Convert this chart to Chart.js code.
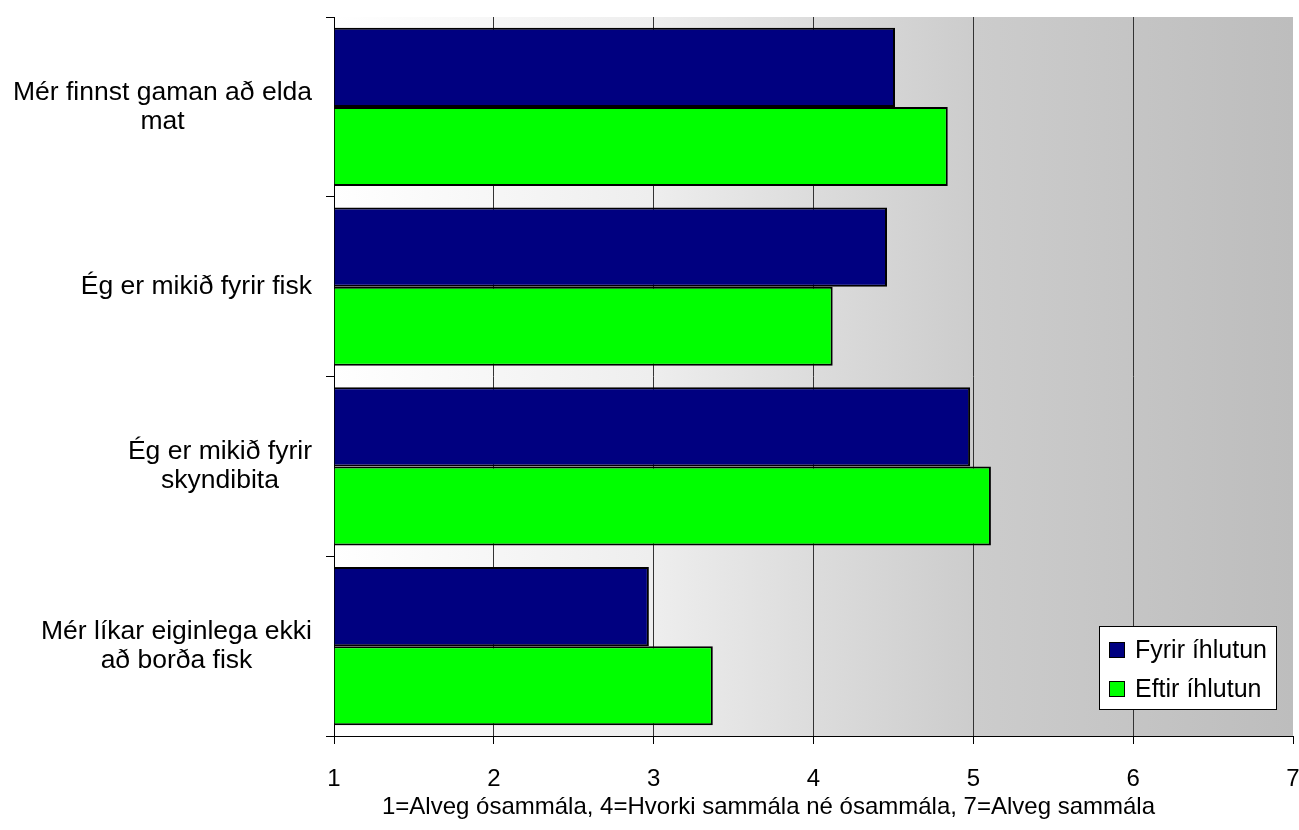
<!DOCTYPE html>
<html>
<head>
<title>Fyrir og eftir íhlutun</title>
<style>
    body {
        margin: 0;
        padding: 0;
        background-color: #ffffff;
    }

    #wrap {
        width: 1299px;
        height: 830px;
    }
</style>
<script src="https://cdn.jsdelivr.net/npm/chart.js"></script>
</head>
<body>
<div id="wrap"><canvas id="chart" width="1299" height="830"></canvas></div>

<script>
    // Data
    var categories = [
        ['Mér finnst gaman að elda', 'mat'],
        ['Ég er mikið fyrir fisk'],
        ['Ég er mikið fyrir', 'skyndibita'],
        ['Mér líkar eiginlega ekki', 'að borða fisk']
    ];
    var fyrirValues = [4.51, 4.46, 4.98, 2.97];
    var eftirValues = [4.84, 4.12, 5.11, 3.37];
    var seriesNames = ['Fyrir íhlutun', 'Eftir íhlutun'];
    var xTicks = [1, 2, 3, 4, 5, 6, 7];
    var xTitle = '1=Alveg ósammála, 4=Hvorki sammála né ósammála, 7=Alveg sammála';

    var fontFamily = 'Arial, "Liberation Sans", sans-serif';

    // Grey gradient behind the plot area
    var plotBackground = {
        id: 'plotBackground',
        beforeDraw: function(chart) {
            var a = chart.chartArea;
            var ctx = chart.ctx;
            var g = ctx.createLinearGradient(a.left, 0, a.right, 0);
            g.addColorStop(0, '#ffffff');
            g.addColorStop(0.33, '#eeeeee');
            g.addColorStop(0.5, '#dcdcdc');
            g.addColorStop(0.67, '#cccccc');
            g.addColorStop(1, '#bdbdbd');
            ctx.save();
            ctx.fillStyle = g;
            ctx.fillRect(a.left, a.top, a.right - a.left, a.bottom - a.top);
            ctx.restore();
        }
    };

    // Category labels: each block right aligned, lines centred inside it,
    // plus the axis caption under the tick numbers
    var axisTexts = {
        id: 'axisTexts',
        afterDraw: function(chart) {
            var ctx = chart.ctx;
            var yScale = chart.scales.y;
            var a = chart.chartArea;
            var right = a.left - 22;
            var lineHeight = 29;
            ctx.save();
            ctx.font = '26.5px ' + fontFamily;
            ctx.fillStyle = '#000000';
            ctx.textAlign = 'center';
            ctx.textBaseline = 'middle';
            categories.forEach(function(lines, i) {
                var w = 0;
                lines.forEach(function(l) { w = Math.max(w, ctx.measureText(l).width); });
                var cx = right - w / 2;
                var cy = yScale.getPixelForValue(i);
                lines.forEach(function(line, j) {
                    ctx.fillText(line, cx, cy + (j - (lines.length - 1) / 2) * lineHeight);
                });
            });

            ctx.font = '24px ' + fontFamily;
            ctx.fillText(xTitle, (a.left + a.right) / 2 - 45, a.bottom + 71);
            ctx.restore();
        }
    };

    // Legend box in the lower right corner of the plot
    var legendBox = {
        id: 'legendBox',
        afterDraw: function(chart) {
            var ctx = chart.ctx;
            var a = chart.chartArea;
            var left = a.right - 194;
            var top = a.bottom - 110;
            ctx.save();
            ctx.fillStyle = '#ffffff';
            ctx.fillRect(left, top, 177, 83);
            ctx.strokeStyle = '#000000';
            ctx.lineWidth = 1;
            ctx.strokeRect(left + 0.5, top + 0.5, 177, 83);
            ctx.font = '25px ' + fontFamily;
            ctx.textBaseline = 'middle';
            ctx.textAlign = 'left';
            chart.data.datasets.forEach(function(ds, i) {
                var y = top + 24 + i * 39;
                ctx.fillStyle = ds.backgroundColor;
                ctx.fillRect(left + 10, y - 8, 16, 16);
                ctx.strokeStyle = '#000000';
                ctx.strokeRect(left + 10.5, y - 7.5, 15, 15);
                ctx.fillStyle = '#000000';
                ctx.fillText(ds.label, left + 36, y + 1);
            });
            ctx.restore();
        }
    };

    var ctx = document.getElementById('chart').getContext('2d');
    var chart = new Chart(ctx, {
        type: 'bar',
        data: {
            labels: categories,
            datasets: [
                {
                    label: seriesNames[0],
                    data: fyrirValues,
                    backgroundColor: '#000080',
                    borderColor: '#000000',
                    borderWidth: 2,
                    base: 1
                },
                {
                    label: seriesNames[1],
                    data: eftirValues,
                    backgroundColor: '#00ff00',
                    borderColor: '#000000',
                    borderWidth: 2,
                    base: 1
                }
            ]
        },
        options: {
            indexAxis: 'y',
            responsive: false,
            animation: false,
            layout: {
                padding: { top: 17, right: 6, bottom: 10, left: 0 }
            },
            datasets: {
                bar: { categoryPercentage: 0.88, barPercentage: 1 }
            },
            plugins: {
                legend: { display: false },
                tooltip: { enabled: false }
            },
            scales: {
                x: {
                    type: 'linear',
                    min: 1,
                    max: 7,
                    afterBuildTicks: function(scale) {
                        scale.ticks = xTicks.map(function(v) { return { value: v }; });
                    },
                    afterFit: function(scale) {
                        scale.height = 84;
                        scale.paddingLeft = 0;
                        scale.paddingRight = 0;
                    },
                    ticks: {
                        color: '#000000',
                        font: { size: 24, family: fontFamily },
                        padding: 21,
                        maxRotation: 0
                    },
                    grid: {
                        color: function(c) {
                            return (c.tick && (c.tick.value === 1 || c.tick.value === 7)) ? 'rgba(0,0,0,0)' : '#333333';
                        },
                        tickColor: '#000000',
                        tickLength: 8
                    },
                    border: { color: '#000000', width: 1 }
                },
                y: {
                    type: 'category',
                    offset: true,
                    ticks: { display: false },
                    grid: {
                        offset: true,
                        drawOnChartArea: false,
                        color: '#000000',
                        tickLength: 8
                    },
                    border: { color: '#000000', width: 1 },
                    afterFit: function(scale) {
                        scale.width = 334;
                    }
                }
            }
        },
        plugins: [plotBackground, axisTexts, legendBox]
    });
</script>
</body>
</html>
